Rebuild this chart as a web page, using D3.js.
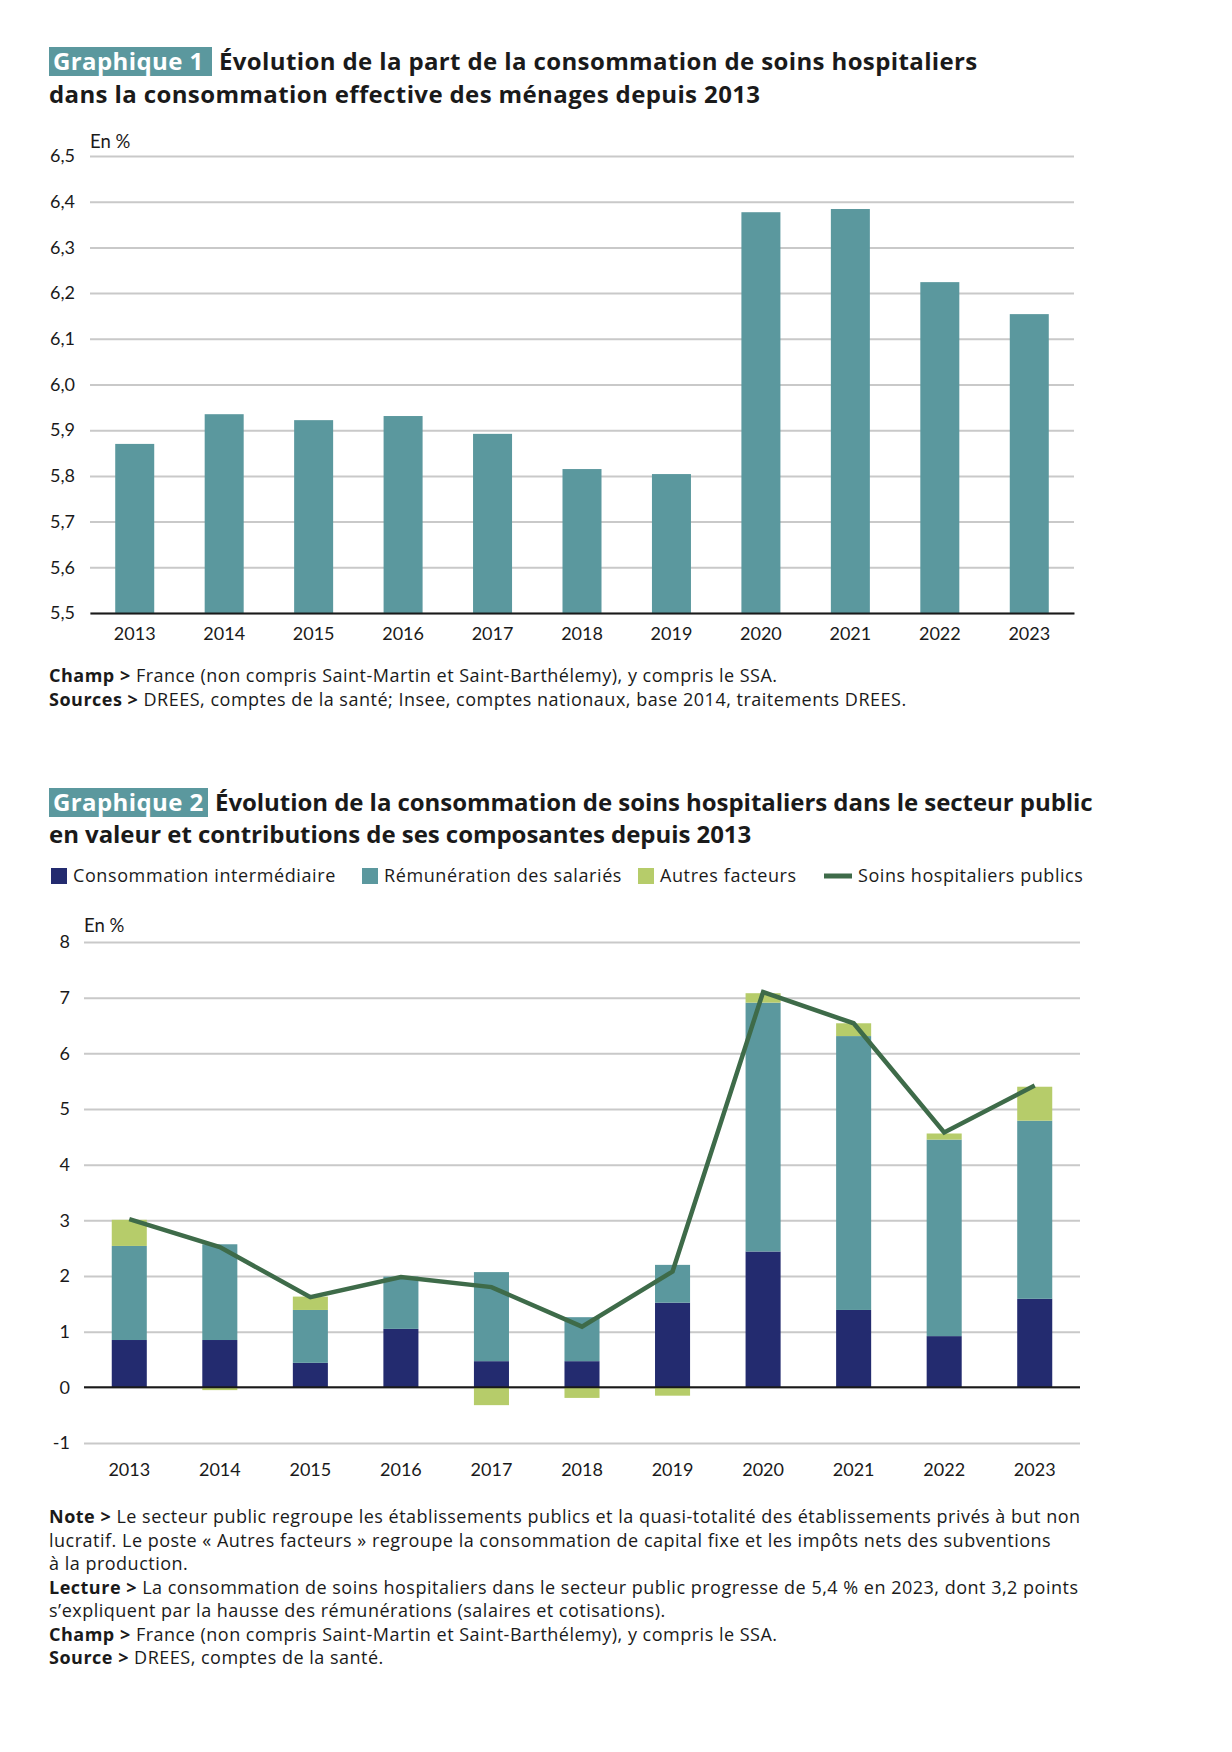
<!DOCTYPE html>
<html><head><meta charset="utf-8">
<script src="https://cdn.jsdelivr.net/npm/d3@7"></script>
<style>
body{margin:0;background:#fff}
svg{display:block}
text{font-family:"Open Sans","Noto Sans",sans-serif;fill:#1a1a1a}
</style>
</head><body>
<svg id="c" width="1232" height="1752"></svg>
<script>
// ---------- DATA ----------
const years = ["2013","2014","2015","2016","2017","2018","2019","2020","2021","2022","2023"];
// Graphique 1 : part de la consommation de soins hospitaliers (en %)
const partSoinsHosp = [5.87,5.935,5.922,5.931,5.892,5.815,5.804,6.377,6.384,6.224,6.154];
const yTicks1 = [5.5,5.6,5.7,5.8,5.9,6.0,6.1,6.2,6.3,6.4,6.5];
// Graphique 2 : contributions (en points) et évolution (en %)
const consoIntermediaire = [0.85,0.85,0.44,1.05,0.47,0.47,1.52,2.44,1.39,0.92,1.59];
const remunerationSalaries = [1.69,1.72,0.95,0.94,1.60,0.79,0.68,4.47,4.92,3.53,3.20];
const autresFacteurs = [0.47,-0.05,0.24,0.0,-0.32,-0.19,-0.15,0.17,0.23,0.11,0.61];
const soinsHospPublics = [3.02,2.52,1.62,1.98,1.80,1.09,2.08,7.10,6.54,4.58,5.42];
const yTicks2 = [-1,0,1,2,3,4,5,6,7,8];
const seriesLabels = ["Consommation intermédiaire","Rémunération des salariés","Autres facteurs","Soins hospitaliers publics"];

// ---------- STYLE ----------
const C_TEAL = "#5b989e", C_NAVY = "#232b6f", C_LIME = "#b6cc6a", C_LINE = "#3e6b49", C_GRID = "#c9c9c9";
const TICK_FONT = "Lato";
const frFmt = d => d3.format(".1f")(d).replace(".", ",");
const intFmt = d => String(d);

const svg = d3.select("#c");
svg.append("rect").attr("width",1232).attr("height",1752).attr("fill","#fff");

function title(x, y, tag, line1, line2, boxW, y2, ls) {
  const g = svg.append("g");
  g.append("rect").attr("x", x).attr("y", y - 23).attr("width", boxW).attr("height", 29).attr("fill", C_TEAL);
  g.append("text").attr("x", x + 4).attr("y", y).attr("font-size", 24).attr("font-weight", 700)
    .attr("letter-spacing", 0.4).style("fill", "#fff").text(tag);
  g.append("text").attr("x", x + boxW + 7).attr("y", y).attr("font-size", 24).attr("font-weight", 700)
    .attr("letter-spacing", ls).text(line1);
  g.append("text").attr("x", x).attr("y", y2).attr("font-size", 24).attr("font-weight", 700)
    .attr("letter-spacing", ls).text(line2);
}

function notes(x, y0, step, lines) {
  lines.forEach((l, i) => {
    const t = svg.append("text").attr("x", x).attr("y", y0 + i * step).attr("font-size", 18)
      .attr("letter-spacing", 0.5);
    if (l[0]) t.append("tspan").attr("font-weight", 700).text(l[0] + " ");
    t.append("tspan").text(l[1]);
  });
}

// ---------- GRAPHIQUE 1 ----------
title(49, 70, "Graphique 1", "Évolution de la part de la consommation de soins hospitaliers",
  "dans la consommation effective des ménages depuis 2013", 163, 103, 0.38);

{
  const x = d3.scaleBand().domain(years).range([90, 1074]).paddingInner(0.564).paddingOuter(0.282);
  const y = d3.scaleLinear().domain([5.5, 6.5]).range([613, 156]);
  const g = svg.append("g");
  const ax = g.append("g").attr("transform", "translate(90,0)")
    .call(d3.axisLeft(y).tickValues(yTicks1).tickSize(-984).tickPadding(15).tickFormat(frFmt));
  ax.select(".domain").remove();
  ax.selectAll(".tick line").attr("stroke", C_GRID).attr("stroke-width", 2);
  ax.selectAll(".tick text").attr("font-size", 18).style("font-family", TICK_FONT).attr("fill", "#1a1a1a");

  g.selectAll("rect.bar").data(partSoinsHosp).join("rect").attr("class", "bar")
    .attr("x", (d, i) => x(years[i])).attr("width", x.bandwidth())
    .attr("y", d => y(d)).attr("height", d => y(5.5) - y(d)).attr("fill", C_TEAL);

  const bx = g.append("g").attr("transform", "translate(0,613)")
    .call(d3.axisBottom(x).tickSize(0).tickPadding(14));
  bx.select(".domain").attr("stroke", "#1a1a1a").attr("stroke-width", 2);
  bx.selectAll(".tick text").attr("font-size", 18).style("font-family", TICK_FONT).attr("fill", "#1a1a1a");

  g.append("text").attr("x", 90).attr("y", 148).attr("font-size", 18.5).style("font-family", TICK_FONT).text("En %");
}

notes(49, 682, 24, [
  ["Champ >", "France (non compris Saint-Martin et Saint-Barthélemy), y compris le SSA."],
  ["Sources >", "DREES, comptes de la santé; Insee, comptes nationaux, base 2014, traitements DREES."]
]);

// ---------- GRAPHIQUE 2 ----------
title(49, 811, "Graphique 2", "Évolution de la consommation de soins hospitaliers dans le secteur public",
  "en valeur et contributions de ses composantes depuis 2013", 159, 843, -0.05);

{
  // legend
  const lg = svg.append("g");
  const legX = [51, 362, 638];
  const legC = [C_NAVY, C_TEAL, C_LIME];
  legC.forEach((c, i) => {
    lg.append("rect").attr("x", legX[i]).attr("y", 868).attr("width", 16).attr("height", 16).attr("fill", c);
    lg.append("text").attr("x", legX[i] + 22).attr("y", 882).attr("font-size", 18)
      .attr("letter-spacing", 0.6).text(seriesLabels[i]);
  });
  lg.append("line").attr("x1", 824).attr("x2", 852).attr("y1", 876).attr("y2", 876)
    .attr("stroke", C_LINE).attr("stroke-width", 5);
  lg.append("text").attr("x", 858).attr("y", 882).attr("font-size", 18)
    .attr("letter-spacing", 0.55).text(seriesLabels[3]);

  const x = d3.scaleBand().domain(years).range([84, 1080]).paddingInner(0.613).paddingOuter(0.3065);
  const y = d3.scaleLinear().domain([-1, 8]).range([1443, 942]);
  const g = svg.append("g");
  const ax = g.append("g").attr("transform", "translate(84,0)")
    .call(d3.axisLeft(y).tickValues(yTicks2).tickSize(-996).tickPadding(14).tickFormat(intFmt));
  ax.select(".domain").remove();
  ax.selectAll(".tick line").attr("stroke", C_GRID).attr("stroke-width", 2);
  ax.selectAll(".tick text").attr("font-size", 18).style("font-family", TICK_FONT).attr("fill", "#1a1a1a");

  const rows = years.map((yr, i) => ({ year: yr, ci: consoIntermediaire[i], rem: remunerationSalaries[i], aut: autresFacteurs[i] }));
  const stack = d3.stack().keys(["ci", "rem", "aut"]).offset(d3.stackOffsetDiverging)(rows);
  const colors = { ci: C_NAVY, rem: C_TEAL, aut: C_LIME };
  stack.forEach(s => {
    g.append("g").attr("fill", colors[s.key]).selectAll("rect").data(s).join("rect")
      .attr("x", d => x(d.data.year)).attr("width", x.bandwidth())
      .attr("y", d => y(Math.max(d[0], d[1]))).attr("height", d => Math.abs(y(d[0]) - y(d[1])));
  });

  g.append("line").attr("x1", 84).attr("x2", 1080).attr("y1", y(0)).attr("y2", y(0))
    .attr("stroke", "#1a1a1a").attr("stroke-width", 2);

  const line = d3.line().x((d, i) => x(years[i]) + x.bandwidth() / 2).y(d => y(d));
  g.append("path").datum(soinsHospPublics).attr("d", line).attr("fill", "none")
    .attr("stroke", C_LINE).attr("stroke-width", 4.5).attr("stroke-linejoin", "miter");

  const bx = g.append("g").attr("transform", "translate(0,1443)")
    .call(d3.axisBottom(x).tickSize(0).tickPadding(20));
  bx.select(".domain").remove();
  bx.selectAll(".tick text").attr("font-size", 18).style("font-family", TICK_FONT).attr("fill", "#1a1a1a");

  g.append("text").attr("x", 84).attr("y", 932).attr("font-size", 18.5).style("font-family", TICK_FONT).text("En %");
}

notes(49, 1523, 23.5, [
  ["Note >", "Le secteur public regroupe les établissements publics et la quasi-totalité des établissements privés à but non"],
  ["", "lucratif. Le poste « Autres facteurs » regroupe la consommation de capital fixe et les impôts nets des subventions"],
  ["", "à la production."],
  ["Lecture >", "La consommation de soins hospitaliers dans le secteur public progresse de 5,4 % en 2023, dont 3,2 points"],
  ["", "s’expliquent par la hausse des rémunérations (salaires et cotisations)."],
  ["Champ >", "France (non compris Saint-Martin et Saint-Barthélemy), y compris le SSA."],
  ["Source >", "DREES, comptes de la santé."]
]);
</script>
</body></html>
